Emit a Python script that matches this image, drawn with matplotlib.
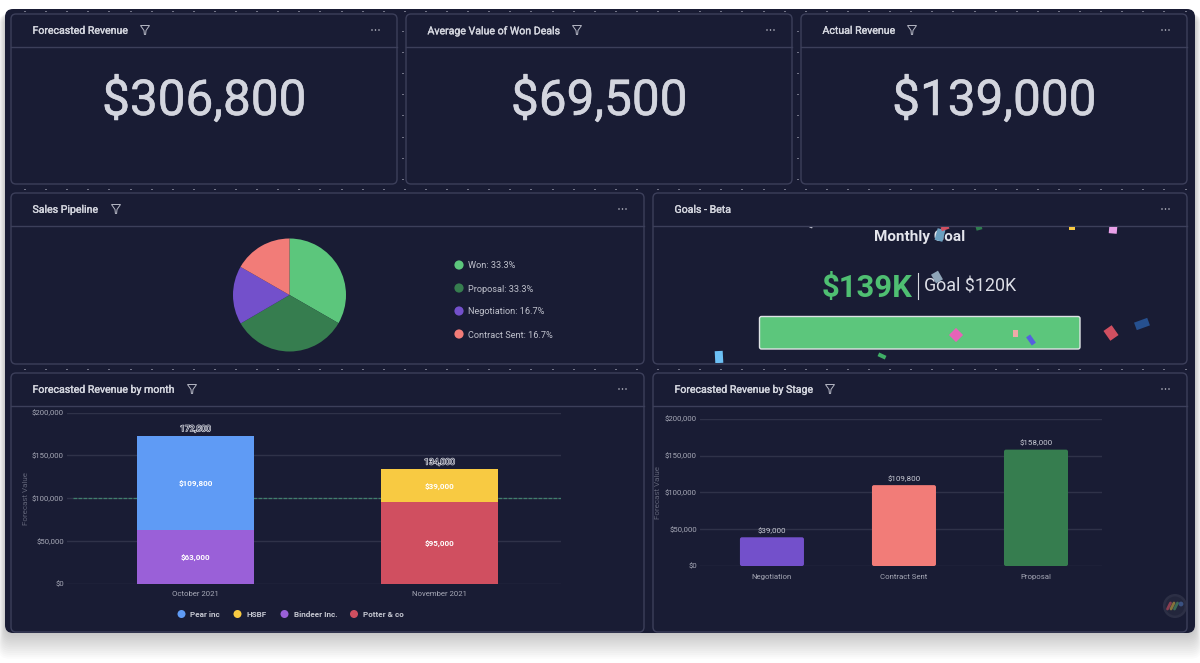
import matplotlib
matplotlib.use("Agg")
import matplotlib.pyplot as plt
import matplotlib.patheffects as pe
from matplotlib.patches import FancyBboxPatch, Circle, Polygon, Rectangle
from matplotlib.transforms import Affine2D

plt.rcParams["font.family"] = ["Roboto", "DejaVu Sans"]

W, H = 1200, 663
BG = "#191c34"
EDGE = "#3c3f5a"
TITLE = "#d3d5de"
TICK = "#a6a8b6"
GRID = "#2f3249"

# KPI cards
kpi_titles = ["Forecasted Revenue", "Average Value of Won Deals", "Actual Revenue"]
kpi_values = ["$306,800", "$69,500", "$139,000"]

# Sales pipeline pie
pipeline_stages = ["Won", "Proposal", "Negotiation", "Contract Sent"]
pipeline_shares = [33.3, 33.3, 16.7, 16.7]
pipeline_colors = ["#5cc67c", "#367d4f", "#7350cb", "#f27c78"]

# Forecast by month, stacked
months = ["October 2021", "November 2021"]
lower_vals = [63000, 95000]
upper_vals = [109800, 39000]
lower_colors = ["#9a60d8", "#d04f60"]
upper_colors = ["#5f9bf5", "#f8ca42"]
month_labels = ["172,800", "134,000"]
target_line = 100000
client_names = ["Pear inc", "HSBF", "Bindeer Inc.", "Potter & co"]
client_colors = ["#5f9bf5", "#f8ca42", "#9a60d8", "#d04f60"]

# Forecast by stage
stages = ["Negotiation", "Contract Sent", "Proposal"]
stage_vals = [39000, 109800, 158000]
stage_colors = ["#7350cb", "#f27c78", "#367d4f"]

y_ticks = [0, 50000, 100000, 150000, 200000]

fig = plt.figure(figsize=(W / 100, H / 100), dpi=100, facecolor="white")
bg = fig.add_axes([0, 0, 1, 1])
bg.set_xlim(0, W)
bg.set_ylim(H, 0)
bg.axis("off")

# Roboto here has no medium weight, a thin stroke gets close
medium = [pe.withStroke(linewidth=0.25, foreground=TITLE)]


def money(v):
    return f"${v:,.0f}"


def round_box(ax, x0, y0, x1, y1, r, **kw):
    p = FancyBboxPatch((x0, y0), x1 - x0, y1 - y0,
                       boxstyle=f"round,pad=0,rounding_size={r}", **kw)
    ax.add_patch(p)
    return p


def funnel(x, y):
    pts = [(x - 4.5, y - 4.5), (x + 4.5, y - 4.5), (x + 1, y + 0.5), (x + 0.6, y + 4.5), (x - 0.6, y + 4.5), (x - 1, y + 0.5)]
    bg.add_patch(Polygon(pts, closed=True, fill=False, ec="#b5b7c4", lw=0.7, zorder=4))


def dots(x1, y, z=4):
    for dx in (-25, -21.5, -18):
        bg.add_patch(Circle((x1 + dx, y), 0.75, fc="#c8cad4", ec="none", zorder=z))


def panel(x0, y0, x1, y1, title, fx=None):
    round_box(bg, x0, y0, x1, y1, 5, fc=BG, ec=EDGE, lw=1, zorder=2)
    bg.plot([x0, x1], [y0 + 33, y0 + 33], color=EDGE, lw=1, zorder=3)
    bg.text(x0 + 21.5, y0 + 15.8, title, color=TITLE, fontsize=7.6, va="center_baseline",
            ha="left", zorder=4, path_effects=medium)
    if fx:
        funnel(fx, y0 + 16)
    dots(x1, y0 + 16)


def to_axes(x0, y0, x1, y1):
    return fig.add_axes([x0 / W, 1 - y1 / H, (x1 - x0) / W, (y1 - y0) / H])


# shadow and dashboard base
for i in range(14):
    round_box(bg, 5 - i * 0.5, 14, 1195 + i * 0.5, 634 + i * 1.9, 10, fc="black", ec="none", alpha=0.014, zorder=0)
round_box(bg, 5, 9, 1195, 633, 8, fc=BG, ec="none", zorder=1)

# little grid dots behind the cards
for k in range(56):
    x = 24.5 + 21.1 * k
    for yy in (11, 189, 369):
        bg.plot([x - 0.5, x + 0.5], [yy, yy], color="#8d8fa0", lw=0.6, zorder=1.5)
for k in range(8):
    for xx in (402, 797):
        bg.plot([xx - 0.5, xx + 0.5], [31 + 21.1 * k] * 2, color="#8d8fa0", lw=0.6, zorder=1.5)

# KPI row
kpi_boxes = [(11, 397, 145, 204), (406, 792, 577, 599), (801, 1187, 912, 994)]
for (x0, x1, fx, cx), t, v in zip(kpi_boxes, kpi_titles, kpi_values):
    panel(x0, 14, x1, 184, t, fx)
    bg.text(cx, 96.2, v, color="#d3d5de", fontsize=35.6, ha="center", va="center_baseline", zorder=4,
            path_effects=[pe.withStroke(linewidth=0.4, foreground="#d3d5de")])

panel(11, 193, 644, 364, "Sales Pipeline", 116)
panel(653, 193, 1187, 364, "Goals - Beta")
panel(11, 373, 644, 632, "Forecasted Revenue by month", 192)
panel(653, 373, 1187, 632, "Forecasted Revenue by Stage", 830)

# pie
ax_pie = to_axes(233, 238.5, 346, 351.5)
ax_pie.pie(pipeline_shares, colors=pipeline_colors, startangle=90, counterclock=False, radius=1.0)
ax_pie.set_xlim(-1, 1)
ax_pie.set_ylim(-1, 1)
for i, (s, p, c) in enumerate(zip(pipeline_stages, pipeline_shares, pipeline_colors)):
    yy = 265 + i * 23
    bg.add_patch(Circle((459, yy), 4.6, fc=c, ec="none", zorder=4))
    bg.text(468, yy, f"{s}: {p}%", color="#bfc1cc", fontsize=6.6, va="center_baseline", ha="left", zorder=4)


def style_chart(ax):
    ax.set_ylim(0, 200000)
    ax.set_yticks(y_ticks)
    ax.set_yticklabels([money(v) for v in y_ticks], va="center_baseline")
    ax.patch.set_alpha(0)
    ax.grid(axis="y", color=GRID, lw=1)
    ax.set_axisbelow(True)
    for s in ax.spines.values():
        s.set_visible(False)
    ax.tick_params(length=0, labelsize=5.6, labelcolor=TICK)
    ax.tick_params(axis="y", pad=2.2)
    ax.set_ylabel("Forecast Value", color="#5f6276", fontsize=5.8)


# stacked month chart
ax1 = to_axes(67, 412.5, 561, 583.7)
style_chart(ax1)
ax1.set_xlim(-0.5266, 1.498)
xs = list(range(len(months)))
ax1.axhline(target_line, xmin=0.012, color="#3f7f6c", lw=0.9, ls=(0, (3, 1)), zorder=1)
ax1.bar(xs, lower_vals, width=0.48, color=lower_colors, zorder=3)
ax1.bar(xs, upper_vals, width=0.48, bottom=lower_vals, color=upper_colors, zorder=3)
for x, lo, up, lab in zip(xs, lower_vals, upper_vals, month_labels):
    ax1.text(x, lo / 2, money(lo), color="white", fontsize=5.8, fontweight="bold", ha="center", va="center_baseline", zorder=4)
    ax1.text(x, lo + up / 2, money(up), color="white", fontsize=5.8, fontweight="bold", ha="center", va="center_baseline", zorder=4)
    # total labels look doubled up in the source, an outline gets the same smudge
    ax1.text(x, lo + up + 2800, lab, color="#2a2d44", fontsize=6.2, ha="center", va="bottom", zorder=4,
             path_effects=[pe.Stroke(linewidth=0.9, foreground="#d8dae2"), pe.Normal()])
ax1.set_xticks(xs)
ax1.set_xticklabels(months)
ax1.tick_params(axis="x", pad=5)
ax1.yaxis.set_label_coords(-0.076, 0.5)

legend_x = [181.5, 237.5, 284.5, 354]
for x, name, c in zip(legend_x, client_names, client_colors):
    bg.add_patch(Circle((x, 614), 4, fc=c, ec="none", zorder=4))
    bg.text(x + 9, 614, name, color="#c4c6d0", fontsize=5.9, fontweight="bold", va="center_baseline", ha="left", zorder=4)

# stage chart
ax2 = to_axes(700, 418.7, 1102, 566)
style_chart(ax2)
ax2.set_xlim(-0.545, 2.5)
x_unit = 3.045 / 402
y_unit = 200000 / 147.3
for i, (v, c) in enumerate(zip(stage_vals, stage_colors)):
    p = FancyBboxPatch((i - 0.2425, 0), 0.485, v,
                       boxstyle=f"round,pad=0,rounding_size={2 * x_unit}",
                       mutation_aspect=y_unit / x_unit, fc=c, ec="none", zorder=3)
    ax2.add_patch(p)
    ax2.text(i, v + 4500, money(v), color="#c8cad4", fontsize=5.8, ha="center", va="bottom", zorder=4)
ax2.set_xticks(range(len(stages)))
ax2.set_xticklabels(stages)
ax2.tick_params(axis="x", pad=6)
ax2.yaxis.set_label_coords(-0.096, 0.5)

# goal widget
bg.text(919.5, 236, "Monthly Goal", color="#e4e5ec", fontsize=11, fontweight="bold", ha="center", va="center_baseline", zorder=4)
bg.text(912, 284.5, "$139K", color="#4fbf72", fontsize=22.3, fontweight="bold", ha="right", va="center_baseline", zorder=4)
bg.plot([917.5, 917.5], [273, 299], color="#d8dae2", lw=0.8, zorder=4)
bg.text(924.5, 284.5, "Goal $120K", color="#dcdee6", fontsize=12.9, ha="left", va="center_baseline", zorder=4)
round_box(bg, 759.5, 316.5, 1080, 349, 2, fc="#5cc67c", ec="#dfe3e6", lw=1, zorder=4)

# confetti: x, y, w, h, angle, colour
confetti = [
    (940, 235, 8, 12, 15, "#6b9fc0"), (945, 228, 8, 4, -20, "#d04f60"), (979, 228, 6, 4, -15, "#2f7d4f"),
    (1072, 228, 6, 3, 0, "#f8ca42"), (1113, 230, 8, 7, 5, "#e9a0e8"), (937, 277, 8, 10, -30, "#8fa5b8"),
    (956, 335, 10, 10, 45, "#e763b8"), (1015, 333, 5, 7, 0, "#efaaa8"), (1031, 340, 5, 10, -35, "#5560e0"),
    (1111, 333, 10, 12, -35, "#d04f60"), (1142, 324, 14, 8, -20, "#26508f"), (719, 357, 8, 12, -3, "#6cc0f5"),
    (882, 356, 8, 4, 25, "#3fae66"), (811, 227, 3, 2, 20, "#b5b7c4"),
]
for cx, cy, w, h, ang, c in confetti:
    t = Affine2D().rotate_deg_around(cx, cy, ang) + bg.transData
    p = Rectangle((cx - w / 2, cy - h / 2), w, h, fc=c, ec="none", transform=t, zorder=5)
    bg.add_patch(p)
    # keep the pieces inside the widget body
    p.set_clip_path(Rectangle((654, 227), 532, 136, transform=bg.transData))

# floating logo
bg.add_patch(Circle((1175, 606), 12, fc="#3a3d52", ec="none", alpha=0.6, zorder=6))
bg.add_patch(Circle((1175, 606), 9.5, fc="#23263c", ec="none", zorder=6))
for dx, c in zip((-6, -2.5, 1), ("#d04f60", "#c7a73c", "#4c9a68")):
    bg.plot([1175 + dx - 1.5, 1175 + dx + 1.5], [609, 603], color=c, lw=2, alpha=0.6, solid_capstyle="round", zorder=7)
bg.add_patch(Circle((1181, 604), 2.4, fc="#4a6fb0", ec="none", alpha=0.6, zorder=7))

fig.savefig("out.png", dpi=100)
